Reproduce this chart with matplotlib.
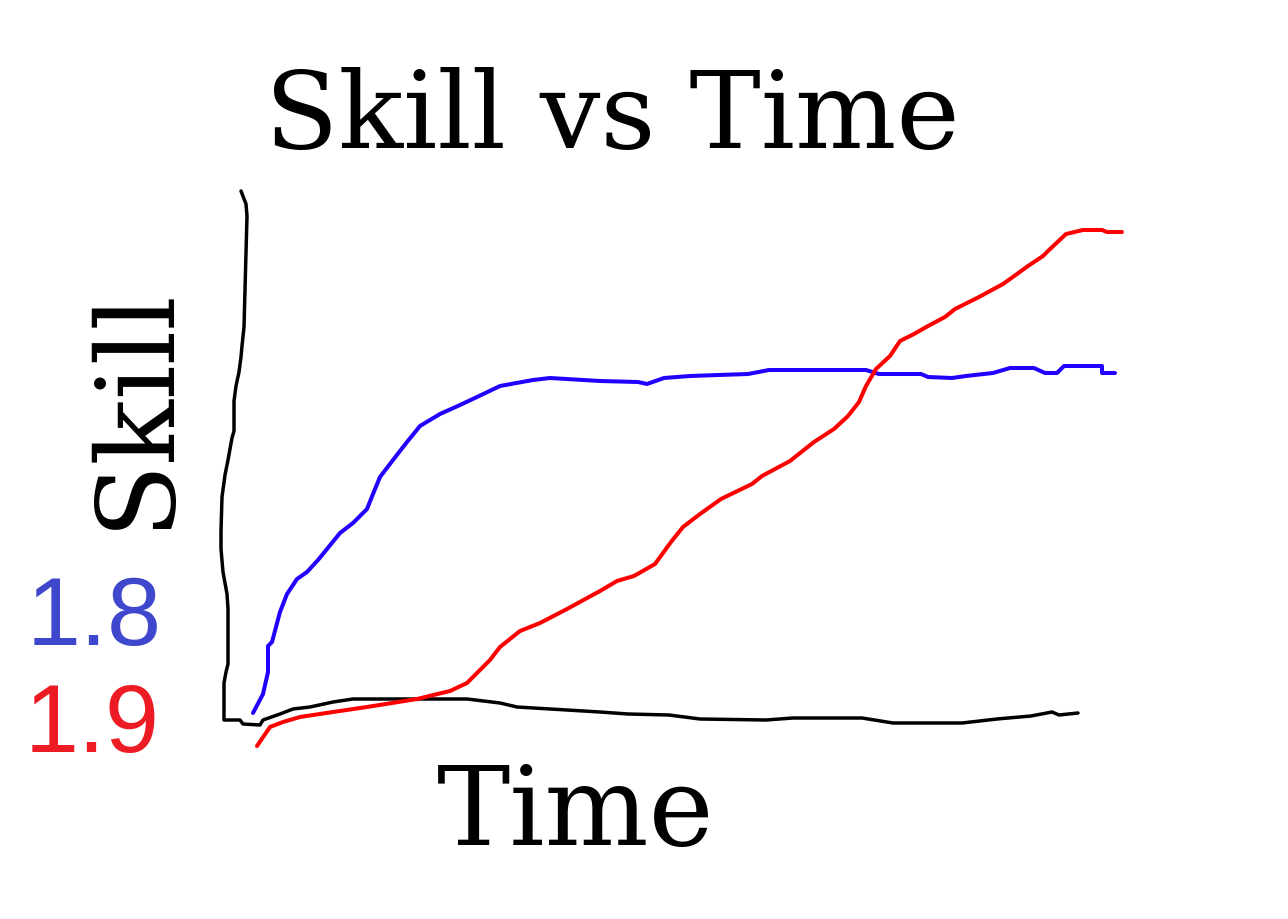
import matplotlib.pyplot as plt

# hand-drawn chart, values (x = time, y = skill, pixel-like units)
axis_time = [241, 246, 247, 246, 245, 244, 242, 241, 239, 236, 234, 234, 232, 228, 225,
             222, 221, 221, 223, 227, 228, 228, 226, 224, 224, 240, 243, 260, 263, 280,
             293, 310, 333, 353, 400, 467, 500, 517, 600, 628, 669, 700, 766, 793, 862,
             893, 962, 997, 1031, 1052, 1059, 1078]
axis_level = [728, 715, 703, 666, 629, 592, 573, 562, 547, 533, 518, 488, 481, 459, 444,
              422, 388, 370, 347, 325, 310, 255, 247, 236, 199, 199, 195, 194, 199, 205,
              210, 212, 217, 220, 220, 220, 216, 212, 207, 205, 204, 200, 199, 201, 201,
              196, 196, 200, 203, 207, 204, 206]

blue_time = [253, 263, 268, 268, 272, 280, 287, 297, 307, 318, 327, 340, 353, 367, 373,
             380, 393, 407, 420, 440, 460, 477, 500, 533, 550, 600, 638, 647, 664, 690,
             748, 769, 866, 879, 921, 928, 952, 966, 993, 1010, 1034, 1045, 1057, 1064,
             1102, 1102, 1115]
blue_skill = [206, 225, 247, 273, 277, 307, 325, 340, 347, 359, 370, 386, 396, 410, 425,
              442, 459, 477, 493, 505, 514, 522, 533, 539, 541, 538, 537, 535, 541, 543,
              545, 549, 549, 545, 545, 542, 541, 543, 546, 551, 551, 546, 546, 553, 553,
              546, 546]

red_time = [257, 270, 283, 300, 333, 367, 417, 450, 467, 477, 490, 500, 520, 540, 567,
            600, 617, 634, 655, 671, 683, 700, 721, 752, 762, 790, 814, 834, 848, 859,
            866, 876, 890, 900, 914, 928, 945, 955, 979, 1003, 1017, 1028, 1043, 1048,
            1066, 1083, 1102, 1107, 1122]
red_skill = [173, 192, 197, 202, 207, 212, 220, 228, 236, 246, 259, 272, 288, 296, 310,
             328, 338, 343, 355, 377, 392, 405, 420, 435, 443, 458, 477, 490, 503, 517,
             533, 550, 563, 578, 585, 593, 602, 610, 622, 635, 645, 653, 663, 668, 685,
             689, 689, 687, 687]

FIG_W, FIG_H = 1288, 920
SERIF = "DejaVu Serif"


def main() -> None:
    fig = plt.figure(figsize=(FIG_W / 100, FIG_H / 100), dpi=100)
    ax = fig.add_axes([0, 0, 1, 1])
    ax.set_xlim(0, FIG_W)
    ax.set_ylim(0, FIG_H)
    ax.axis("off")

    style = dict(solid_capstyle="round", solid_joinstyle="round")
    ax.plot(axis_time, axis_level, color="black", lw=2.5, **style)
    ax.plot(blue_time, blue_skill, color="#2200ff", lw=2.9, **style)
    ax.plot(red_time, red_skill, color="#ff0000", lw=2.9, **style)

    ax.text(612, FIG_H - 148, "Skill vs Time", family=SERIF, fontsize=77,
            ha="center", va="baseline")
    ax.text(576, FIG_H - 845, "Time", family=SERIF, fontsize=79,
            ha="center", va="baseline")
    ax.text(136, FIG_H - 407, "Skill", family=SERIF, fontsize=78, rotation=90,
            ha="center", va="center")

    ax.text(27, FIG_H - 645, "1.8", family="Liberation Sans", fontsize=70,
            color="#3f48cc", ha="left", va="baseline")
    ax.text(25, FIG_H - 752, "1.9", family="Liberation Sans", fontsize=70,
            color="#ed1c24", ha="left", va="baseline")

    fig.savefig("out.png", dpi=100, facecolor="white")
    plt.close(fig)


if __name__ == "__main__":
    main()
